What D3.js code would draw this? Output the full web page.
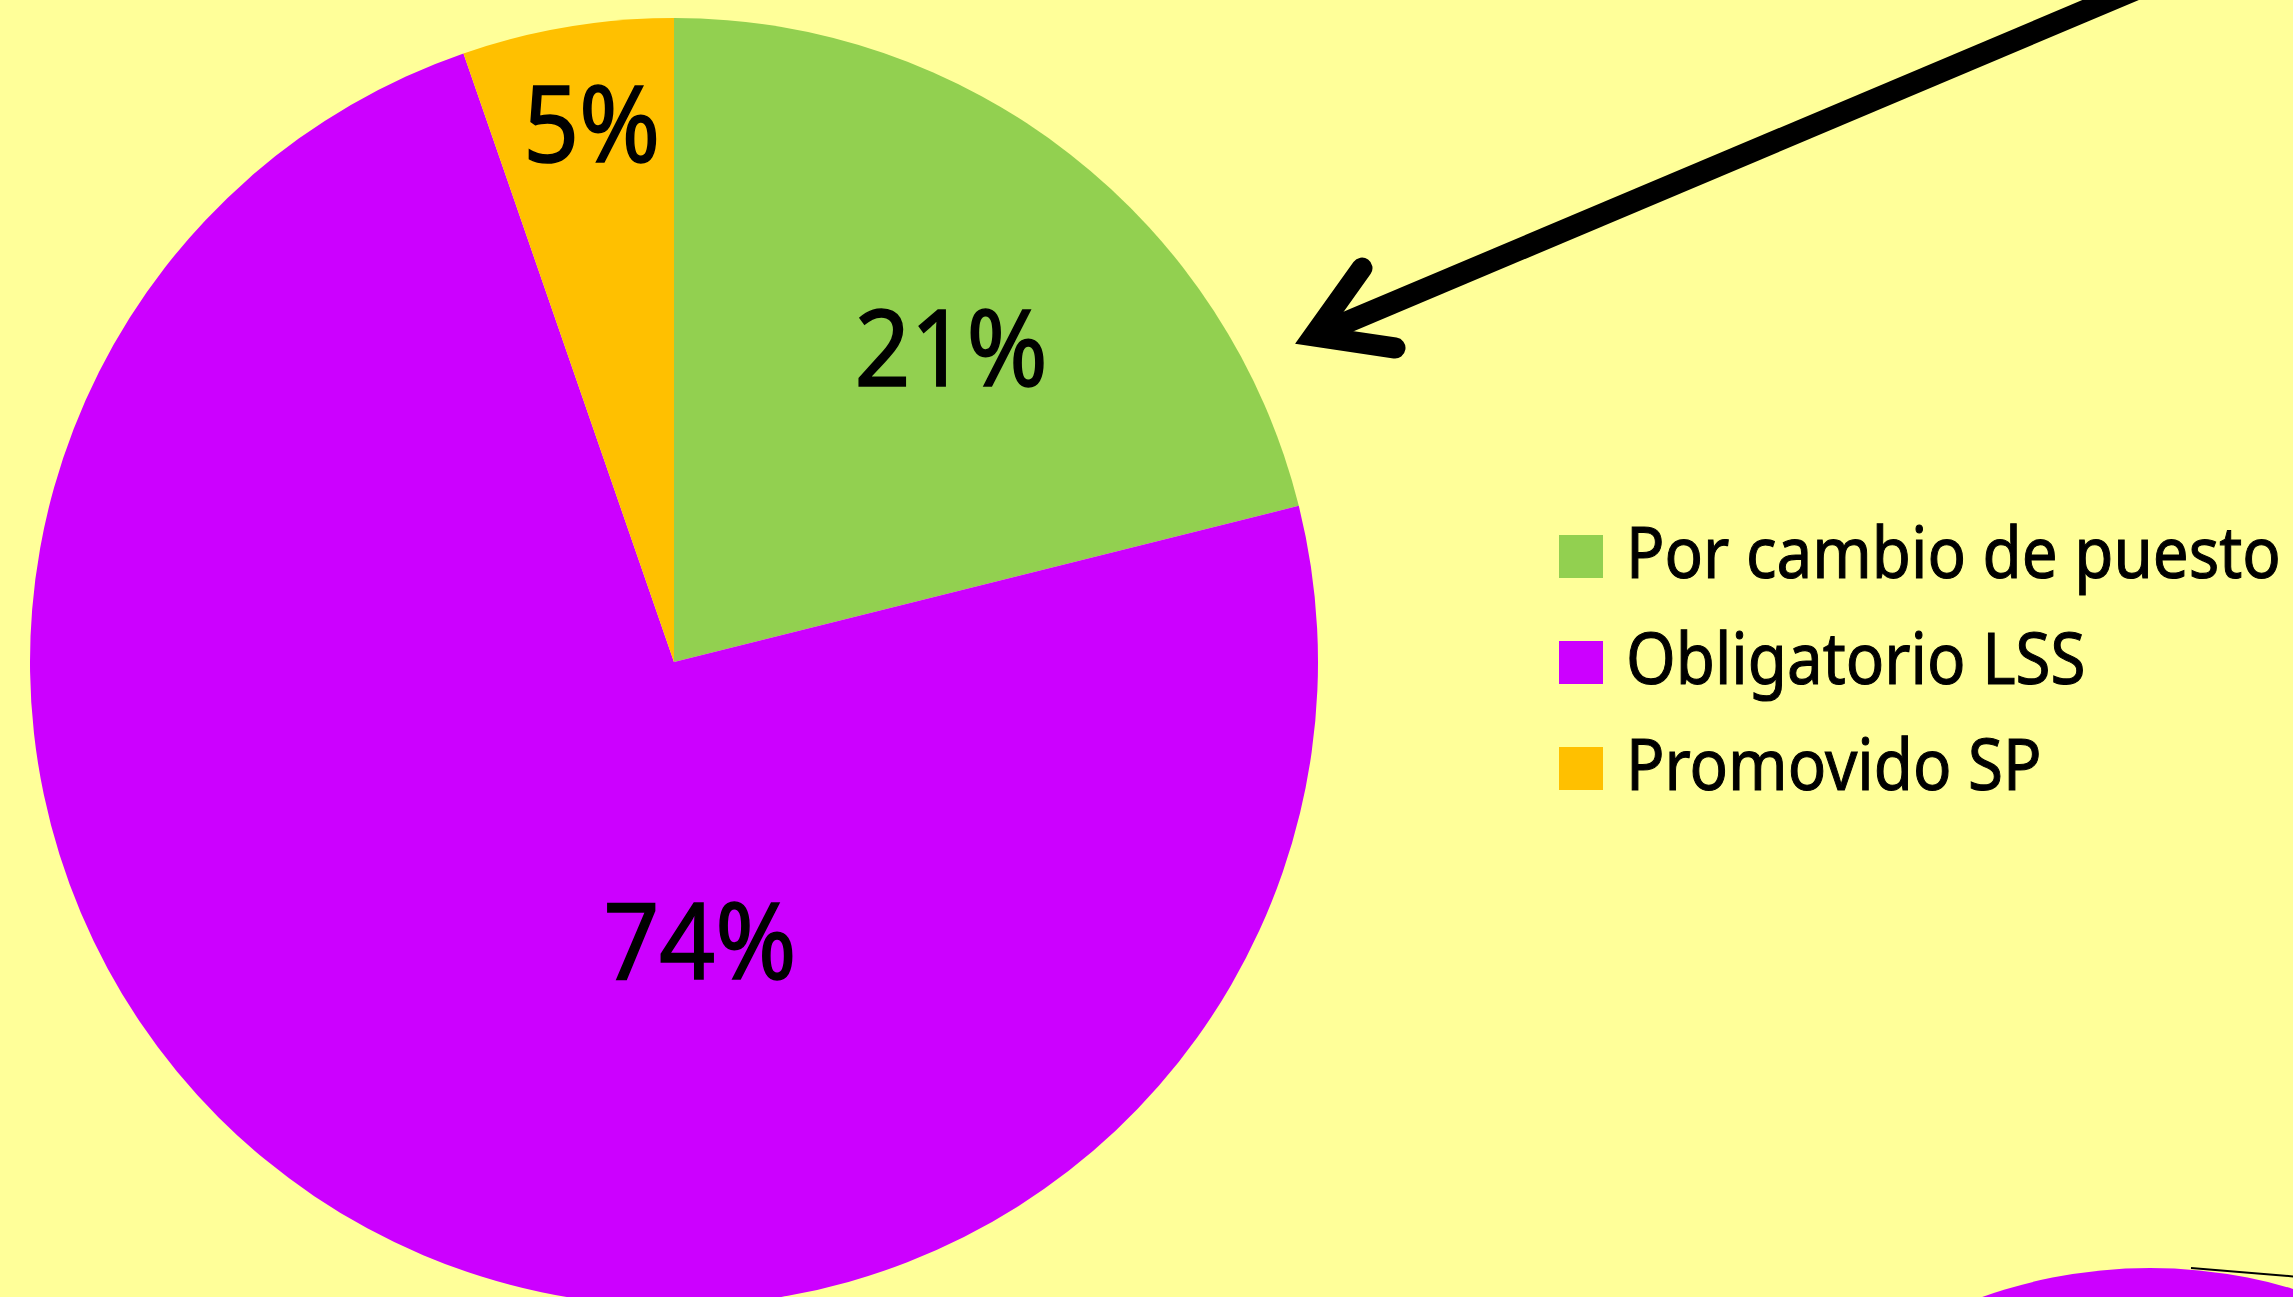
<!DOCTYPE html>
<html><head><meta charset="utf-8">
<script src="https://cdn.jsdelivr.net/npm/d3@7"></script>
<style>
html,body{margin:0;padding:0;background:#FFFF99;overflow:hidden;}
svg{display:block;}
text{font-family:"Noto Sans","Open Sans",sans-serif;fill:#000;}
</style></head>
<body>
<svg id="c" width="2293" height="1297"></svg>
<script>
// ---- data ----
const categories = ["Por cambio de puesto", "Obligatorio LSS", "Promovido SP"];
const values = [21.1, 73.6, 5.3];
const valueLabels = ["21%", "74%", "5%"];
const colors = ["#92D050", "#CC00FF", "#FFC000"];
// label placement (radius px, angle deg clockwise from top)
const labelPolar = [[419, 41.4], [280, 174.7], [544, 351.3]];

const W = 2293, H = 1297;
const cx = 674, cy = 662, R = 644;
const svg = d3.select("#c");
svg.append("rect").attr("width", W).attr("height", H).attr("fill", "#FFFF99");

// decorative partial shape bottom right
svg.append("circle").attr("cx", 2150).attr("cy", 1768).attr("r", 500).attr("fill", "#CC00FF");
svg.append("line").attr("x1", 2191).attr("y1", 1268).attr("x2", 2300).attr("y2", 1277)
  .attr("stroke", "#000").attr("stroke-width", 2);

const pie = d3.pie().sort(null).value(d => d)(values);
const arc = d3.arc().innerRadius(0).outerRadius(R);
const g = svg.append("g").attr("transform", `translate(${cx},${cy})`);
g.selectAll("path").data(pie).join("path")
  .attr("d", arc).attr("fill", (d, i) => colors[i]);

// labels
const labFs = 106;
const labs = g.selectAll("text.lab").data(pie).join("text")
  .attr("class", "lab")
  .attr("font-size", labFs)
  .attr("text-anchor", "middle")
  .attr("stroke", "#000").attr("stroke-width", 1.6)
  .text((d, i) => valueLabels[i]);
let w21 = labs.nodes()[0].getComputedTextLength();
const kLab = 193 / w21;
labs.attr("transform", (d, i) => {
  const [r, a] = labelPolar[i];
  const rad = a * Math.PI / 180;
  const x = r * Math.sin(rad), y = -r * Math.cos(rad) + 0.357 * labFs;
  return `translate(${x},${y}) scale(${kLab},1)`;
});

// legend
const legX = 1559, legY0 = 578, legStep = 106, sq = 44;
const legFs = 72;
const leg = svg.append("g");
const rows = leg.selectAll("g").data(categories).join("g")
  .attr("transform", (d, i) => `translate(${legX},${legY0 + i * legStep})`);
rows.append("rect").attr("x", 0).attr("y", -43).attr("width", sq).attr("height", 43)
  .attr("fill", (d, i) => colors[i]);
const lt = rows.append("text").attr("font-size", legFs)
  .attr("stroke", "#000").attr("stroke-width", 1.1).text(d => d);
const w0 = lt.nodes()[0].getComputedTextLength();
const kLeg = 655 / w0;
lt.attr("transform", `translate(67,0) scale(${kLeg},1)`);

// arrow
const tip = [1290, 346], up = [1362, 268], lo = [1395, 348];
const ang = (p) => Math.atan2(p[1] - tip[1], p[0] - tip[0]);
const a1 = ang(up), a2 = ang(lo);
const bis = (a1 + a2) / 2, half = Math.abs(a1 - a2) / 2;
const bw = 21;
const off = (bw / 2) / Math.sin(half);
const vx = tip[0] + off * Math.cos(bis), vy = tip[1] + off * Math.sin(bis);
svg.append("path")
  .attr("d", `M${up[0]},${up[1]}L${vx},${vy}L${lo[0]},${lo[1]}`)
  .attr("fill", "none").attr("stroke", "#000").attr("stroke-width", bw)
  .attr("stroke-linecap", "round").attr("stroke-linejoin", "miter").attr("stroke-miterlimit", 10);
svg.append("line")
  .attr("x1", vx + 8).attr("y1", vy - 3).attr("x2", 2158).attr("y2", -20)
  .attr("stroke", "#000").attr("stroke-width", 22);
</script>
</body></html>
